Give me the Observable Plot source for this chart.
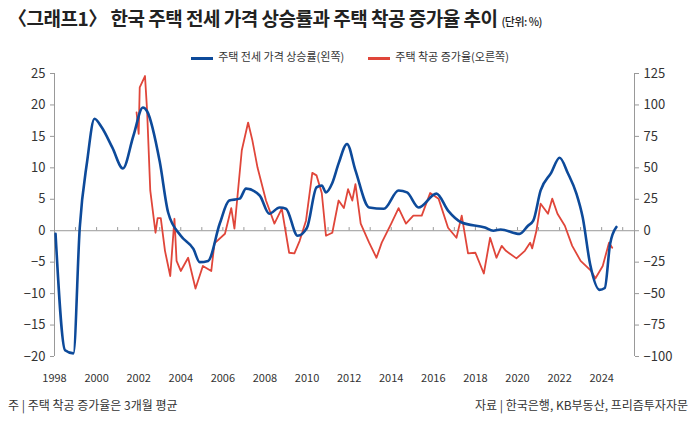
<!DOCTYPE html>
<html><head><meta charset="utf-8">
<script src="https://cdn.jsdelivr.net/npm/d3@7"></script>
<script src="https://cdn.jsdelivr.net/npm/@observablehq/plot@0.6"></script>
<style>
body{margin:0;background:#fff;font-family:"Noto Sans CJK KR",sans-serif;width:700px;height:427px;overflow:hidden;position:relative}
#title{position:absolute;left:8px;top:4px;font-size:19px;font-weight:700;color:#222;letter-spacing:-0.5px}
#title small{font-size:11px;font-weight:500}
#legend{position:absolute;top:48px;left:0;width:700px;text-align:center;font-size:11px;color:#333}
#legend span{display:inline-block;margin:0 12px}
#legend i{display:inline-block;width:22px;height:3px;vertical-align:middle;margin-right:5px}
#chart{position:absolute;left:0;top:60px}
#foot{position:absolute;top:396px;left:8px;width:680px;font-size:12px;color:#333}
#foot .r{position:absolute;right:0;top:0}
</style></head><body>
<div id="title">〈그래프1〉 한국 주택 전세 가격 상승률과 주택 착공 증가율 추이 <small>(단위: %)</small></div>
<div id="legend"><span><i style="background:#0d4a9a"></i>주택 전세 가격 상승률(왼쪽)</span><span><i style="background:#e0463a"></i>주택 착공 증가율(오른쪽)</span></div>
<div id="chart"></div>
<div id="foot">주 | 주택 착공 증가율은 3개월 평균<span class="r">자료 | 한국은행, KB부동산, 프리즘투자자문</span></div>
<script>
const jeonseYears=[1998.05,1998.5,1998.9,1999.2,1999.55,1999.9,2000.25,2000.75,2001.25,2001.75,2002.2,2002.4,2003.0,2003.4,2004.0,2004.6,2004.9,2005.3,2005.85,2006.3,2006.8,2007.1,2007.75,2008.2,2008.7,2009.0,2009.55,2010.0,2010.45,2010.7,2010.9,2011.2,2011.5,2011.9,2012.3,2012.95,2013.65,2014.35,2014.75,2015.3,2016.15,2016.7,2017.35,2018.45,2018.85,2019.2,2020.1,2020.5,2020.75,2021.1,2021.6,2022.0,2022.4,2022.8,2023.1,2023.45,2023.9,2024.15,2024.4,2024.7];
const jeonseValues=[-0.5,-19,-19.5,0.5,11,17.8,16.4,13.2,9.9,15.1,19.6,19,11,2.9,-0.8,-2.9,-5,-4.8,1.1,4.8,5.1,6.7,5.6,2.7,3.7,3.5,-0.8,0.5,6.9,7.2,6.1,7.6,10.7,13.8,9.6,3.7,3.5,6.4,6.1,3.7,5.9,3.2,1.3,0.5,0,0.2,-0.5,0.8,1.6,6.4,9.2,11.6,9.1,5.9,2.1,-5.3,-9.4,-9.1,-2.1,0.6];
const startsYears=[2001.9,2002.0,2002.05,2002.3,2002.4,2002.55,2002.8,2002.9,2003.05,2003.25,2003.5,2003.7,2003.8,2004.0,2004.35,2004.7,2005.05,2005.45,2005.6,2006.1,2006.4,2006.55,2006.9,2007.2,2007.4,2007.65,2008.05,2008.45,2008.8,2009.15,2009.4,2009.65,2009.95,2010.25,2010.45,2010.7,2010.9,2011.2,2011.5,2011.75,2011.95,2012.15,2012.3,2012.55,2012.95,2013.3,2013.55,2014.0,2014.35,2014.7,2015.05,2015.45,2015.85,2016.25,2016.7,2017.1,2017.35,2017.65,2018.0,2018.4,2018.7,2019.0,2019.25,2019.45,2019.95,2020.35,2020.6,2020.7,2020.9,2021.1,2021.45,2021.65,2021.9,2022.25,2022.6,2023.0,2023.5,2023.7,2024.05,2024.35,2024.5];
const startsValues=[94,77,114,123,95.5,32,-1.6,10,10,-16,-36,9.5,-24,-32,-21.5,-46,-28,-32,-10,-2.4,18,1.6,64,86,72,50,24,5.6,17.5,-17.5,-18,-8,8,46,44,30,-4,-1.6,24,18,33,24,37,5.6,-9.5,-21.5,-9.5,5.6,18,5.6,12,12,30,25.5,2.4,-5.6,12,-18,-17.5,-34,-5.6,-21.5,-12,-16,-22,-16,-9.5,-14,0,21.5,13.5,25.5,13.5,4,-12,-24,-32,-38,-28,-9.5,-13.5];
const leftTicks=[-20,-15,-10,-5,0,5,10,15,20,25];
const xTickLabels=[1998,2000,2002,2004,2006,2008,2010,2012,2014,2016,2018,2020,2022,2024];
const yearTicks=d3.range(1998,2026);

const jeonse=jeonseYears.map((x,i)=>({x,y:jeonseValues[i]}));
const starts=startsYears.map((x,i)=>({x,y:startsValues[i]/5}));

const chart=Plot.plot({
  width:700,height:332,marginLeft:54,marginRight:66,marginTop:13,marginBottom:36,
  style:{fontFamily:"Noto Sans CJK KR, sans-serif",fontSize:"12px",color:"#333"},
  x:{domain:[1998,2025.56]},
  y:{domain:[-20,25]},
  marks:[
    Plot.ruleY([0],{stroke:"#999"}),
    Plot.ruleX(yearTicks,{y1:0,y2:0.5,stroke:"#999"}),
    Plot.ruleX([1998],{y1:-20,y2:25,stroke:"#999"}),
    Plot.ruleX([2025.56],{y1:-20,y2:25,stroke:"#999"}),
    Plot.axisY({ticks:leftTicks,anchor:"left",label:null,tickSize:4,stroke:"#999",fontSize:13}),
    Plot.axisY({ticks:leftTicks,anchor:"right",label:null,tickSize:4,stroke:"#999",fontSize:13,tickFormat:d=>String(d*5).replace("-","−")}),
    Plot.axisX({ticks:xTickLabels,tickFormat:d=>String(d),tickSize:0,label:null,fontSize:11,tickPadding:18}),
    Plot.line(starts,{x:"x",y:"y",stroke:"#e0463a",strokeWidth:1.8,curve:"linear"}),
    Plot.line(jeonse,{x:"x",y:"y",stroke:"#0d4a9a",strokeWidth:2.6,curve:"monotone-x"})
  ]
});
document.getElementById("chart").append(chart);
</script></body></html>
